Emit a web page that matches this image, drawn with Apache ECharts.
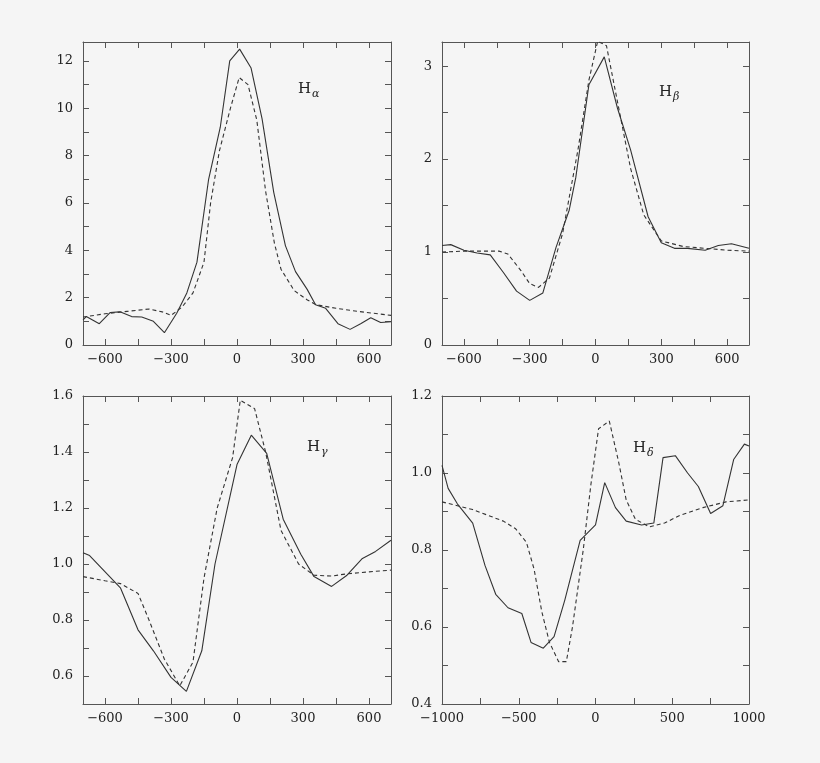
<!DOCTYPE html>
<html><head><meta charset="utf-8">
<script src="https://cdn.jsdelivr.net/npm/echarts@6/dist/echarts.min.js"></script>
<style>html,body{margin:0;background:#f5f5f5}#c{width:820px;height:763px}</style>
</head><body><div id="c"></div>
<script>
// H-alpha
const haSolidX=[-700,-685,-626,-577,-532,-479,-433,-380,-330,-274,-228,-182,-129,-76,-33,12,64,114,167,220,266,319,357,403,459,514,562,608,653,700];
const haSolidY=[1.06,1.2,0.9,1.37,1.4,1.2,1.18,1.0,0.52,1.34,2.2,3.5,7.0,9.2,12.0,12.5,11.7,9.55,6.45,4.2,3.1,2.35,1.7,1.55,0.9,0.66,0.9,1.15,0.95,0.98];
const haDashX=[-700,-600,-500,-400,-340,-300,-250,-200,-150,-120,-80,-30,10,50,90,130,170,200,260,320,360,450,550,700];
const haDashY=[1.18,1.32,1.42,1.52,1.4,1.25,1.6,2.2,3.5,6.0,8.2,10.0,11.3,11.0,9.5,6.5,4.3,3.2,2.3,1.9,1.7,1.55,1.42,1.25];
// H-beta
const hbSolidX=[-700,-660,-600,-540,-480,-420,-360,-300,-240,-180,-120,-90,-30,40,100,160,240,300,360,420,500,560,620,700];
const hbSolidY=[1.07,1.08,1.02,0.99,0.97,0.78,0.58,0.48,0.56,1.05,1.45,1.8,2.8,3.1,2.55,2.1,1.38,1.1,1.04,1.04,1.02,1.07,1.09,1.04];
const hbDashX=[-700,-600,-500,-440,-400,-340,-300,-260,-210,-150,-80,-30,10,50,110,160,220,300,400,500,600,700];
const hbDashY=[1.0,1.01,1.01,1.01,0.98,0.8,0.66,0.62,0.72,1.2,2.1,2.85,3.27,3.22,2.5,1.9,1.4,1.12,1.06,1.04,1.02,1.01];
// H-gamma
const hgSolidX=[-700,-670,-530,-450,-380,-300,-230,-160,-100,0,65,135,210,290,350,430,500,570,630,700];
const hgSolidY=[1.04,1.03,0.915,0.765,0.69,0.595,0.545,0.69,1.0,1.355,1.46,1.395,1.16,1.035,0.955,0.92,0.96,1.02,1.045,1.085];
const hgDashX=[-700,-600,-530,-450,-400,-330,-260,-200,-150,-90,-20,15,80,130,200,280,350,430,500,600,700];
const hgDashY=[0.955,0.94,0.93,0.895,0.80,0.66,0.565,0.65,0.95,1.2,1.38,1.585,1.555,1.4,1.12,1.0,0.96,0.957,0.965,0.972,0.978];
// H-delta
const hdSolidX=[-1000,-960,-900,-800,-720,-650,-570,-480,-420,-340,-270,-200,-100,-50,0,60,130,200,300,380,440,520,600,670,750,830,900,970,1000];
const hdSolidY=[1.02,0.96,0.92,0.87,0.76,0.685,0.65,0.635,0.56,0.545,0.575,0.67,0.825,0.845,0.865,0.975,0.91,0.875,0.865,0.87,1.04,1.045,1.0,0.965,0.895,0.915,1.035,1.075,1.07];
const hdDashX=[-1000,-900,-800,-700,-600,-520,-450,-400,-350,-300,-240,-190,-150,-80,-30,20,90,150,200,260,350,450,550,700,850,1000];
const hdDashY=[0.925,0.915,0.905,0.89,0.875,0.855,0.82,0.75,0.64,0.56,0.51,0.51,0.6,0.8,0.97,1.115,1.135,1.03,0.93,0.88,0.86,0.87,0.89,0.91,0.925,0.93];
// tick labels
const vLabels=[-600,-300,0,300,600];
const vTicks=[-600,-450,-300,-150,0,150,300,450,600];
const dLabels=[-1000,-500,0,500,1000];
const dTicks=[-1000,-750,-500,-250,0,250,500,750,1000];
const haYLabels=[0,2,4,6,8,10,12];
const haYTicks=[0,1,2,3,4,5,6,7,8,9,10,11,12];
const hbYLabels=[0,1,2,3];
const hbYTicks=[0,0.5,1,1.5,2,2.5,3];
const hgYLabels=[0.6,0.8,1.0,1.2,1.4,1.6];
const hgYTicks=[0.6,0.7,0.8,0.9,1.0,1.1,1.2,1.3,1.4,1.5];
const hdYLabels=[0.4,0.6,0.8,1.0,1.2];
const hdYTicks=[0.5,0.6,0.7,0.8,0.9,1.0,1.1];

const panels=[
 {sx:haSolidX,sy:haSolidY,dx:haDashX,dy:haDashY,xmin:-700,xmax:700,xl:vLabels,xt:vTicks,ymin:0,ymax:12.8,yl:haYLabels,yt:haYTicks,yfmt:v=>String(v)},
 {sx:hbSolidX,sy:hbSolidY,dx:hbDashX,dy:hbDashY,xmin:-700,xmax:700,xl:vLabels,xt:vTicks,ymin:0,ymax:3.26,yl:hbYLabels,yt:hbYTicks,yfmt:v=>String(v)},
 {sx:hgSolidX,sy:hgSolidY,dx:hgDashX,dy:hgDashY,xmin:-700,xmax:700,xl:vLabels,xt:vTicks,ymin:0.5,ymax:1.6,yl:hgYLabels,yt:hgYTicks,yfmt:v=>(+v).toFixed(1)},
 {sx:hdSolidX,sy:hdSolidY,dx:hdDashX,dy:hdDashY,xmin:-1000,xmax:1000,xl:dLabels,xt:dTicks,ymin:0.4,ymax:1.2,yl:hdYLabels,yt:hdYTicks,yfmt:v=>(+v).toFixed(1)}
];
const grids=[{left:83,top:42,width:308,height:303},{left:442,top:42,width:307,height:303},{left:83,top:396,width:308,height:308},{left:442,top:396,width:307,height:308}];
const font='"DejaVu Serif", "Liberation Serif", serif';
const ax='#555';
const xAxis=[],yAxis=[],series=[];
const pair=(xs,ys)=>xs.map((x,i)=>[x,ys[i]]);
panels.forEach((p,i)=>{
  const common=(ticks)=>({splitLine:{show:false},axisLine:{onZero:false,lineStyle:{color:ax}},axisTick:{inside:true,length:6,customValues:ticks,lineStyle:{color:ax}}});
  xAxis.push(Object.assign({type:'value',gridIndex:i,min:p.xmin,max:p.xmax,position:'bottom'},common(p.xt),
    {axisLabel:{color:'#222',fontFamily:font,fontSize:13,margin:8,customValues:p.xl,formatter:v=>String(v).replace('-','−')}}));
  xAxis.push(Object.assign({type:'value',gridIndex:i,min:p.xmin,max:p.xmax,position:'top'},common(p.xt),{axisLabel:{show:false}}));
  yAxis.push(Object.assign({type:'value',gridIndex:i,min:p.ymin,max:p.ymax,position:'left'},common(p.yt),
    {axisLabel:{color:'#222',fontFamily:font,fontSize:13,margin:10,customValues:p.yl,formatter:p.yfmt}}));
  yAxis.push(Object.assign({type:'value',gridIndex:i,min:p.ymin,max:p.ymax,position:'right'},common(p.yt),{axisLabel:{show:false}}));
  series.push({type:'line',xAxisIndex:2*i,yAxisIndex:2*i,data:pair(p.sx,p.sy),symbol:'none',lineStyle:{color:'#333',width:1.1}});
  series.push({type:'line',xAxisIndex:2*i,yAxisIndex:2*i,data:pair(p.dx,p.dy),symbol:'none',lineStyle:{color:'#333',width:1.1,type:[4,3]}});
});
const labels=[['α',298,82],['β',659,85],['γ',307,440],['δ',633,441]];
const graphic=labels.map(([g,x,y])=>({type:'text',left:x,top:y,style:{text:'{h|H}{s|'+g+'}',rich:{h:{fontFamily:font,fontSize:15,fill:'#222'},s:{fontFamily:font,fontSize:11,fontStyle:'italic',fill:'#222',padding:[10,0,0,1]}}}}));
const chart=echarts.init(document.getElementById('c'));
chart.setOption({backgroundColor:'#f5f5f5',animation:false,grid:grids,xAxis,yAxis,series,graphic});
</script></body></html>
